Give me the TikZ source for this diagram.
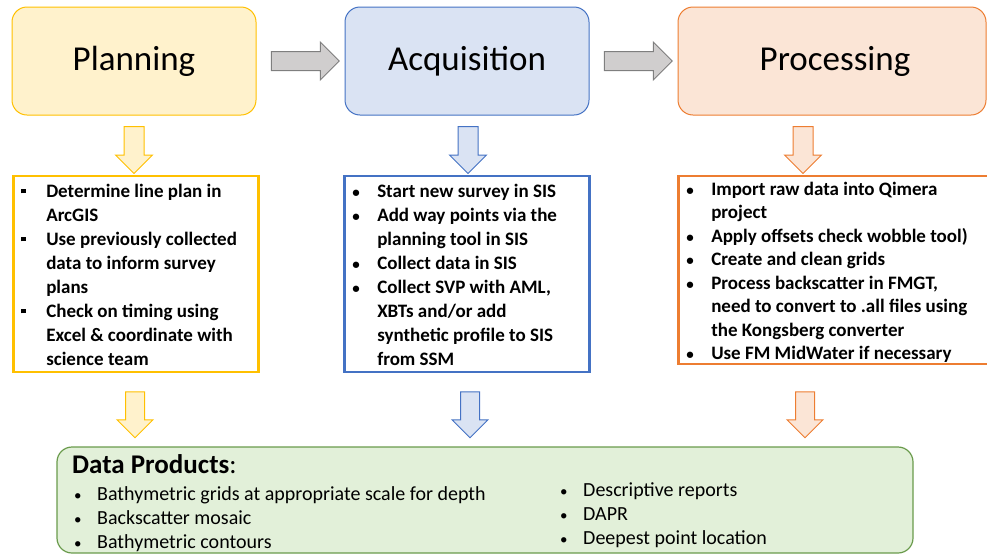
\documentclass[tikz,border=0pt]{standalone}
\usepackage{fontspec}
\setmainfont{Carlito}
\usetikzlibrary{positioning,shapes.arrows,calc}

\definecolor{planfill}{HTML}{FFF2CC}
\definecolor{planline}{HTML}{FFC000}
\definecolor{acqfill}{HTML}{DAE3F3}
\definecolor{acqline}{HTML}{4472C4}
\definecolor{procfill}{HTML}{FBE5D6}
\definecolor{procline}{HTML}{ED7D31}
\definecolor{prodfill}{HTML}{E2F0D9}
\definecolor{prodline}{HTML}{6A9B4C}
\definecolor{nextfill}{HTML}{D0CECE}
\definecolor{nextline}{HTML}{7F7F7F}

\newcommand{\sqbullet}{\rule[4pt]{4.5pt}{4.5pt}}
\newcommand{\dotbullet}{{\fontsize{15}{15}\selectfont\textbullet}}

\begin{document}
\begin{tikzpicture}[x=1pt, y=-1pt,
	phase/.style={draw, rounded corners=15pt, minimum height=108pt, outer sep=0pt, line width=1pt,
		font=\fontsize{35}{42}\selectfont},
	todo/.style={draw, line width=2.5pt, anchor=north west, outer sep=0pt,
		inner xsep=8pt, inner ysep=0pt, font=\bfseries\fontsize{19}{24}\selectfont},
	next/.style={single arrow, draw=nextline, fill=nextfill, line width=1pt, minimum height=68pt,
		inner sep=9pt, single arrow head extend=9.5pt, outer sep=0pt},
	down/.style={single arrow, shape border rotate=270, line width=1pt, minimum height=47pt,
		inner sep=9.5pt, single arrow head extend=8.5pt, outer sep=0pt},
	product/.style={anchor=north west, inner sep=0pt, font=\fontsize{20}{24}\selectfont}]
	\clip (0,0) rectangle (987,555);
	% phases
	\node[phase, fill=planfill, draw=planline, minimum width=244pt] (plan) at (134,61) {Planning};
	\node[phase, fill=acqfill, draw=acqline, minimum width=244pt] (acq) at (467,61) {Acquisition};
	\node[phase, fill=procfill, draw=procline, minimum width=308pt] (proc) at (832,61) {\hspace*{6pt}Processing};
	\node[next] (plannext) at ($(plan.east)!0.5!(acq.west)$) {};
	\node[next] (acqnext) at ($(acq.east)!0.5!(proc.west)$) {};
	% tasks
	\node[todo, draw=planline, minimum height=196pt] (plantodo) at (13.25,176) {%
		\begin{tabular}{@{}p{25pt}@{}p{204pt}@{}}
			\sqbullet & Determine line plan in\\
			& ArcGIS\\
			\sqbullet & Use previously collected\\
			& data to inform survey\\
			& plans\\
			\sqbullet & Check on timing using\\
			& Excel \& coordinate with\\
			& science team\\[-5pt]
		\end{tabular}};
	\node[todo, draw=acqline, minimum height=196pt] (acqtodo) at (344.25,176) {%
		\begin{tabular}{@{}p{25pt}@{}p{204pt}@{}}
			\dotbullet & Start new survey in SIS\\
			\dotbullet & Add way points via the\\
			& planning tool in SIS\\
			\dotbullet & Collect data in SIS\\
			\dotbullet & Collect SVP with AML,\\
			& XBTs and/or add\\
			& synthetic profile to SIS\\
			& from SSM\\[-5pt]
		\end{tabular}};
	\node[todo, draw=procline, minimum height=188pt, font=\bfseries\fontsize{19}{23.5}\selectfont]
		(proctodo) at (678.25,176) {%
		\begin{tabular}{@{}p{25pt}@{}p{280pt}@{}}
			\dotbullet & Import raw data into Qimera\\
			& project\\
			\dotbullet & Apply offsets check wobble tool)\\
			\dotbullet & Create and clean grids\\
			\dotbullet & Process backscatter in FMGT,\\
			& need to convert to .all files using\\
			& the Kongsberg converter\\
			\dotbullet & Use FM MidWater if necessary\\[-6pt]
		\end{tabular}};
	\node[down, draw=planline, fill=planfill] (plandown) at (134,145) {};
	\node[down, draw=acqline, fill=acqfill] (acqdown) at (468,145) {};
	\node[down, draw=procline, fill=procfill] (procdown) at (803,145) {};
	% products
	\node[draw=prodline, fill=prodfill, line width=1.2pt, rounded corners=15pt, anchor=north west,
		minimum width=856pt, minimum height=106pt, outer sep=0pt] (prod) at (57,447) {};
	\node[down, draw=planline, fill=planfill, minimum height=46pt, inner sep=9pt] (plandone) at (135,410) {};
	\node[down, draw=acqline, fill=acqfill, minimum height=46pt, inner sep=9pt] (acqdone) at (470,410) {};
	\node[down, draw=procline, fill=procfill, minimum height=46pt, inner sep=9pt] (procdone) at (805,410) {};
	\node[anchor=base west, inner sep=0pt, font=\fontsize{27}{32}\selectfont] (prodhead) at (72,473)
		{\textbf{Data Products}:};
	\node[product] (prodleft) at (74,483.5) {%
		\begin{tabular}{@{}p{23pt}@{}l@{}}
			\dotbullet & Bathymetric grids at appropriate scale for depth\\
			\dotbullet & Backscatter mosaic\\
			\dotbullet & Bathymetric contours
		\end{tabular}};
	\node[product] (prodright) at (560,479.5) {%
		\begin{tabular}{@{}p{23pt}@{}l@{}}
			\dotbullet & Descriptive reports\\
			\dotbullet & DAPR\\
			\dotbullet & Deepest point location
		\end{tabular}};
\end{tikzpicture}
\end{document}
